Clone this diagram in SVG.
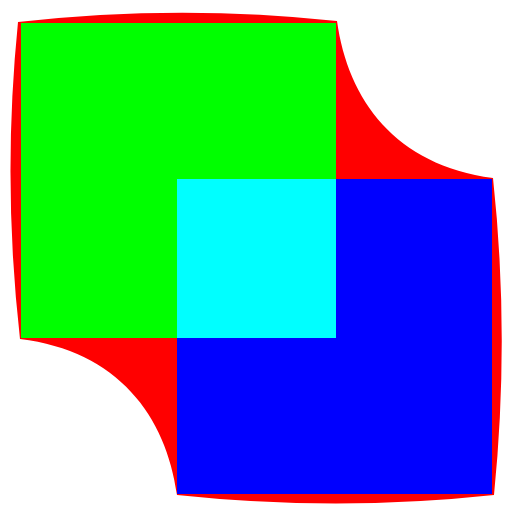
<svg xmlns="http://www.w3.org/2000/svg" width="506" height="509" viewBox="0 0 506 509">
  <rect width="506" height="509" fill="#ffffff"/>
  <path id="backdrop" fill="#ff0000" d="M 18,22 Q 178,4 337,21 C 348,100 395,165 493,178 Q 510,336 494,495 Q 336,512 177,495 C 166,416 118,351 20,339 Q 2,180 18,22 Z"/>
  <g id="green"><rect x="21" y="23" width="315" height="315" fill="#00ff00"/></g>
  <g id="blue"><rect x="177" y="179" width="315" height="315" fill="#0000ff"/></g>
  <g id="overlap"><rect x="177" y="179" width="159" height="159" fill="#00ffff"/></g>
</svg>
